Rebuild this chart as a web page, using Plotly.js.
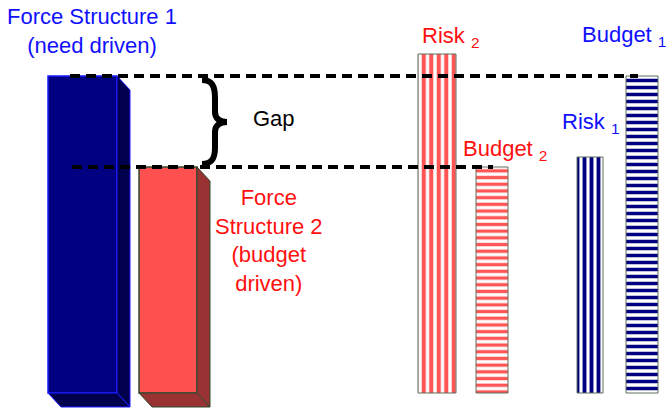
<!DOCTYPE html>
<html>
<head>
<meta charset="utf-8">
<script src="https://cdn.plot.ly/plotly-3.0.1.min.js"></script>
<style>html,body{margin:0;padding:0;background:#fff;}#chart{width:666px;height:408px;}</style>
</head>
<body>
<div id="chart"></div>
<script>
// ---- data ----
const categories = ['Force Structure 1', 'Force Structure 2', 'Risk 2', 'Budget 2', 'Risk 1', 'Budget 1'];
const values = [317, 226, 339, 226, 236, 317];
const labels = ['Force Structure 1<br>(need driven)', 'Force<br>Structure 2<br>(budget<br>driven)', 'Risk <sub>2</sub>', 'Budget <sub>2</sub>', 'Risk <sub>1</sub>', 'Budget <sub>1</sub>'];
const gapLabel = 'Gap';

// ---- layout config (positions / sizes / styles) ----
const barX = [82.5, 168, 437, 492, 590, 642];
const barW = [69, 58, 38, 32, 26, 32];
const depth = {dx: 13, dy: 14};
const BLUE_TXT = '#1010FF', RED_TXT = '#FF1010';
const FONT = 'Liberation Sans, Arial, sans-serif';
const FS = 22;

const traces = [];

// solid 3D bars (Force Structures)
const solidStyle = [
  {front: '#000080', side: '#00004D', line: '#1A1AFF'},
  {front: '#FF5050', side: '#993333', line: '#2F4A2F'}
];
[0, 1].forEach(i => {
  const st = solidStyle[i];
  const xl = barX[i] - barW[i] / 2, xr = barX[i] + barW[i] / 2, v = values[i];
  traces.push({type: 'scatter', mode: 'lines', fill: 'toself', fillcolor: st.side,
    x: [xr, xr + depth.dx, xr + depth.dx, xr, xr],
    y: [v, v - depth.dy, -depth.dy, 0, v],
    line: {color: st.line, width: 1}, hoverinfo: 'skip'});
  traces.push({type: 'scatter', mode: 'lines', fill: 'toself', fillcolor: st.side,
    x: [xl, xr, xr + depth.dx, xl + depth.dx, xl],
    y: [0, 0, -depth.dy, -depth.dy, 0],
    line: {color: st.line, width: 1}, hoverinfo: 'skip'});
  traces.push({type: 'bar', x: [barX[i]], y: [v], width: [barW[i]], name: categories[i],
    marker: {color: st.front, line: {color: st.line, width: 1.5}}, hoverinfo: 'name+y'});
});

// striped bars
const stripeStyle = {
  2: {shape: '|', fg: '#FF5555', size: 7.5, solidity: 0.55},
  3: {shape: '-', fg: '#FF5555', size: 6.7, solidity: 0.5},
  4: {shape: '|', fg: '#000080', size: 7, solidity: 0.55},
  5: {shape: '-', fg: '#000080', size: 7, solidity: 0.5}
};
[2, 3, 4, 5].forEach(i => {
  const st = stripeStyle[i];
  traces.push({type: 'bar', x: [barX[i]], y: [values[i]], width: [barW[i]], name: categories[i],
    marker: {color: '#FFFFFF', line: {color: '#5E6E5E', width: 1},
      pattern: {shape: st.shape, fgcolor: st.fg, bgcolor: '#FFFFFF', size: st.size, solidity: st.solidity, fillmode: 'replace'}},
    hoverinfo: 'name+y'});
});

// dashed reference lines
const topLineX = [barX[0] - barW[0] / 2 + 22, barX[5] - 4];
const lowLineX = [barX[0] - barW[0] / 2 + 24, barX[3] + 1];
traces.push({type: 'scatter', mode: 'lines', x: topLineX, y: [values[0], values[0]],
  line: {color: '#000', width: 4, dash: '10px,6px'}, hoverinfo: 'skip'});
traces.push({type: 'scatter', mode: 'lines', x: lowLineX, y: [values[1], values[1]],
  line: {color: '#000', width: 4, dash: '10px,6px'}, hoverinfo: 'skip'});

// brace between the two levels
const gTop = values[0] - 4, gBot = values[1] + 3;
const bx0 = barX[1] + barW[1] / 2 + 5, bxs = bx0 + 13, bxt = bx0 + 25;
const gMid = (gTop + gBot) / 2;
const bracePath = `M ${bx0},${gTop} C ${bx0 + 10},${gTop} ${bxs},${gTop - 6} ${bxs},${gTop - 18}` +
  ` L ${bxs},${gMid + 10} C ${bxs},${gMid + 4} ${bxs + 4},${gMid} ${bxt},${gMid}` +
  ` C ${bxs + 4},${gMid} ${bxs},${gMid - 4} ${bxs},${gMid - 10}` +
  ` L ${bxs},${gBot + 16} C ${bxs},${gBot + 6} ${bx0 + 10},${gBot} ${bx0},${gBot}`;

const ann = (text, x, y, color, xanchor) => ({
  text, x, y, xref: 'x', yref: 'y', showarrow: false, xanchor: xanchor || 'center', yanchor: 'middle',
  font: {family: FONT, size: FS, color}, align: 'center'});

const annotations = [
  ann(labels[0], 91.5, 393 - 31, BLUE_TXT),
  ann(labels[1], 269, 393 - 240, RED_TXT),
  ann(gapLabel, 274, 393 - 118, '#000'),
  ann(labels[2], 420, 393 - 37, RED_TXT, 'left'),
  ann(labels[3], 461, 393 - 150, RED_TXT, 'left'),
  ann(labels[4], 560, 393 - 123, BLUE_TXT, 'left'),
  ann(labels[5], 580, 393 - 36, BLUE_TXT, 'left')
];

const layout = {
  width: 666, height: 408,
  margin: {l: 0, r: 0, t: 0, b: 0, pad: 0},
  paper_bgcolor: '#fff', plot_bgcolor: '#fff',
  showlegend: false, barmode: 'overlay',
  xaxis: {range: [0, 666], visible: false, fixedrange: true},
  yaxis: {range: [-15, 393], visible: false, fixedrange: true},
  shapes: [{type: 'path', path: bracePath, xref: 'x', yref: 'y',
    line: {color: '#000', width: 6}, layer: 'above'}],
  annotations
};

Plotly.newPlot('chart', traces, layout, {displayModeBar: false, staticPlot: true});
</script>
</body>
</html>
